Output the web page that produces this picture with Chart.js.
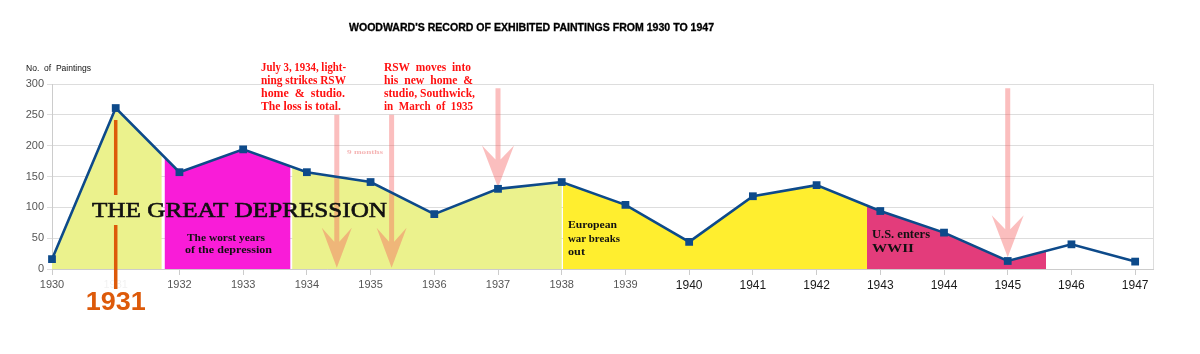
<!DOCTYPE html>
<html>
<head>
<meta charset="utf-8">
<script src="https://cdn.jsdelivr.net/npm/chart.js@4.4.1/dist/chart.umd.min.js"></script>
<style>
  html, body { margin: 0; padding: 0; background: #ffffff; }
  #wrap { width: 1200px; height: 354px; }
</style>
</head>
<body>
<div id="wrap"><canvas id="c" width="1200" height="354"></canvas></div>
<script>
// ---------------- data ----------------
const years = [1930, 1931, 1932, 1933, 1934, 1935, 1936, 1937, 1938, 1939, 1940, 1941, 1942, 1943, 1944, 1945, 1946, 1947];
const paintings = [16, 261, 157, 194, 157, 141, 89, 130, 141, 104, 44, 118, 136, 94, 59, 13, 40, 12];
const yTicks = [0, 50, 100, 150, 200, 250, 300];

// shaded periods (in years)
const periodStart = [1930, 1931.77, 1933.77, 1938.02, 1942.79];
const periodEnd   = [1931.72, 1933.74, 1938.0, 1942.79, 1945.6];

// arrows (year, top value, tip value)
const arrowYear = [1934.47, 1935.33, 1937, 1945];
const arrowTop  = [250, 250, 293, 293];
const arrowTip  = [2, 2, 132, 19];

// ---------------- styles ----------------
const periodColors = ['#ebf28d', '#f91cd8', '#ebf28d', '#ffee2f', '#e33c7b'];
const lineColor = '#0d4a8a';
const arrowColor = 'rgba(245,92,92,0.4)';
const orange = '#dd5a0a';

function fitText(ctx, text, left, baseline, width, stroke) {
  const m = ctx.measureText(text).width;
  ctx.save();
  ctx.translate(left, baseline);
  ctx.scale(width / m, 1);
  ctx.textAlign = 'left';
  ctx.textBaseline = 'alphabetic';
  ctx.fillText(text, 0, 0);
  if (stroke) {
    ctx.strokeStyle = ctx.fillStyle;
    ctx.lineWidth = stroke;
    ctx.strokeText(text, 0, 0);
  }
  ctx.restore();
}

function drawArrow(ctx, x, top, tip, shaftW, headW, headLen, notch) {
  const hb = tip - headLen;
  ctx.beginPath();
  ctx.moveTo(x - shaftW / 2, top);
  ctx.lineTo(x - shaftW / 2, hb + notch);
  ctx.lineTo(x - headW / 2, hb);
  ctx.lineTo(x, tip);
  ctx.lineTo(x + headW / 2, hb);
  ctx.lineTo(x + shaftW / 2, hb + notch);
  ctx.lineTo(x + shaftW / 2, top);
  ctx.closePath();
  ctx.fill();
}

const decorPlugin = {
  id: 'decor',
  beforeDatasetsDraw(chart) {
    const ctx = chart.ctx;
    const xs = chart.scales.x, ys = chart.scales.y;
    const ca = chart.chartArea;
    const pts = chart.getDatasetMeta(0).data;
    const y0 = ys.getPixelForValue(0);

    // area fills per period
    for (let i = 0; i < periodStart.length; i++) {
      const a = xs.getPixelForValue(periodStart[i]);
      const b = xs.getPixelForValue(periodEnd[i]);
      ctx.save();
      ctx.beginPath();
      ctx.rect(a, ca.top, b - a, y0 - ca.top);
      ctx.clip();
      ctx.beginPath();
      ctx.moveTo(pts[0].x, y0);
      pts.forEach(p => ctx.lineTo(p.x, p.y));
      ctx.lineTo(pts[pts.length - 1].x, y0);
      ctx.closePath();
      ctx.fillStyle = periodColors[i];
      ctx.fill();
      ctx.restore();
    }

    // right border
    ctx.save();
    ctx.strokeStyle = '#dddddd';
    ctx.lineWidth = 1;
    ctx.beginPath();
    ctx.moveTo(ca.right + 0.5, ca.top);
    ctx.lineTo(ca.right + 0.5, ca.bottom);
    ctx.stroke();
    ctx.restore();

    // arrows
    ctx.save();
    ctx.fillStyle = arrowColor;
    for (let i = 0; i < arrowYear.length; i++) {
      const x = xs.getPixelForValue(arrowYear[i]);
      const t = ys.getPixelForValue(arrowTop[i]);
      const p = ys.getPixelForValue(arrowTip[i]);
      const big = i >= 2;
      drawArrow(ctx, x, t, p, 5, big ? 32 : 30, big ? 42 : 40, 14);
    }
    ctx.restore();

    // 1931 orange marker line
    const x31 = xs.getPixelForValue(1931);
    ctx.save();
    ctx.strokeStyle = orange;
    ctx.lineWidth = 3.5;
    ctx.beginPath();
    ctx.moveTo(x31, 120); ctx.lineTo(x31, 195);
    ctx.moveTo(x31, 225); ctx.lineTo(x31, 289);
    ctx.stroke();
    ctx.restore();

    // texts inside plot
    ctx.save();
    ctx.fillStyle = '#111111';
    ctx.font = '21px "Liberation Serif", serif';
    fitText(ctx, 'THE GREAT DEPRESSION', 92, 217, 295, 0.6);
    ctx.font = 'bold 11px "Liberation Serif", serif';
    fitText(ctx, 'The worst years', 187, 241, 78);
    fitText(ctx, 'of the depression', 185, 253, 87);
    fitText(ctx, 'European', 568, 228, 49);
    fitText(ctx, 'war breaks', 568, 242, 52);
    fitText(ctx, 'out', 568, 255, 17);
    ctx.font = 'bold 12px "Liberation Serif", serif';
    fitText(ctx, 'U.S. enters', 872, 238, 58);
    fitText(ctx, 'WWII', 872, 252, 42);
    ctx.fillStyle = '#f5b5b5';
    ctx.font = 'bold 7px "Liberation Serif", serif';
    fitText(ctx, '9 months', 347, 154, 36);
    ctx.restore();
  },
  afterDraw(chart) {
    const ctx = chart.ctx;
    const xs = chart.scales.x;
    ctx.save();
    // title
    ctx.fillStyle = '#000000';
    ctx.font = 'bold 10px "Liberation Sans", Arial, sans-serif';
    fitText(ctx, "WOODWARD'S RECORD OF EXHIBITED PAINTINGS FROM 1930 TO 1947", 349, 31, 365, 0.3);
    // y axis title
    ctx.fillStyle = '#111111';
    ctx.font = '9px "Liberation Sans", Arial, sans-serif';
    fitText(ctx, 'No.  of  Paintings', 26, 71, 65);
    // red notes
    ctx.fillStyle = '#ff1010';
    ctx.font = 'bold 12px "Liberation Serif", serif';
    const n1 = ['July 3, 1934, light-', 'ning strikes RSW', 'home  &  studio.', 'The loss is total.'];
    const w1 = [85, 85, 84, 80];
    const n2 = ['RSW  moves  into', 'his  new  home  &', 'studio, Southwick,', 'in  March  of  1935'];
    const w2 = [87, 89, 91, 89];
    const bl = [71, 84, 97, 110];
    for (let i = 0; i < 4; i++) {
      fitText(ctx, n1[i], 261, bl[i], w1[i]);
      fitText(ctx, n2[i], 384, bl[i], w2[i]);
    }
    // 1931 big label
    ctx.fillStyle = orange;
    ctx.font = 'bold 26px "Liberation Sans", Arial, sans-serif';
    const x31 = xs.getPixelForValue(1931);
    fitText(ctx, '1931', x31 - 30, 310, 60);
    ctx.restore();
  }
};

const tickVal = c => (c && c.tick) ? c.tick.value : 0;

new Chart(document.getElementById('c'), {
  type: 'line',
  data: {
    datasets: [{
      data: years.map((y, i) => ({ x: y, y: paintings[i] })),
      borderColor: lineColor,
      backgroundColor: lineColor,
      borderWidth: 2.6,
      pointStyle: 'rect',
      pointRadius: 5.5,
      pointBackgroundColor: lineColor,
      pointBorderColor: lineColor,
      pointBorderWidth: 0,
      tension: 0,
      fill: false,
      clip: false
    }]
  },
  options: {
    responsive: false,
    devicePixelRatio: 1,
    animation: false,
    layout: { padding: { left: 0, right: 47, top: 84, bottom: 0 } },
    plugins: { legend: { display: false }, title: { display: false }, tooltip: { enabled: false } },
    scales: {
      x: {
        type: 'linear',
        min: 1930,
        max: 1947.28,
        afterBuildTicks: s => { s.ticks = years.map(v => ({ value: v })); },
        afterFit: s => { s.height = 85; },
        grid: { drawOnChartArea: false, tickLength: 6, color: '#cccccc' },
        border: { color: '#cccccc' },
        ticks: {
          autoSkip: false,
          maxRotation: 0,
          padding: 3,
          callback: v => String(v),
          color: c => { const v = tickVal(c); return v === 1931 ? 'rgba(0,0,0,0.06)' : (v >= 1940 ? '#1a1a1a' : '#555555'); },
          font: c => ({ family: '"Liberation Sans", Arial, sans-serif', size: tickVal(c) >= 1940 ? 12 : 11 })
        }
      },
      y: {
        min: 0,
        max: 300,
        afterBuildTicks: s => { s.ticks = yTicks.map(v => ({ value: v })); },
        afterFit: s => { s.width = 52; },
        grid: { color: '#dddddd', tickLength: 5 },
        border: { color: '#cccccc' },
        ticks: {
          padding: 3,
          color: '#555555',
          font: { family: '"Liberation Sans", Arial, sans-serif', size: 11 }
        }
      }
    }
  },
  plugins: [decorPlugin]
});
</script>
</body>
</html>
